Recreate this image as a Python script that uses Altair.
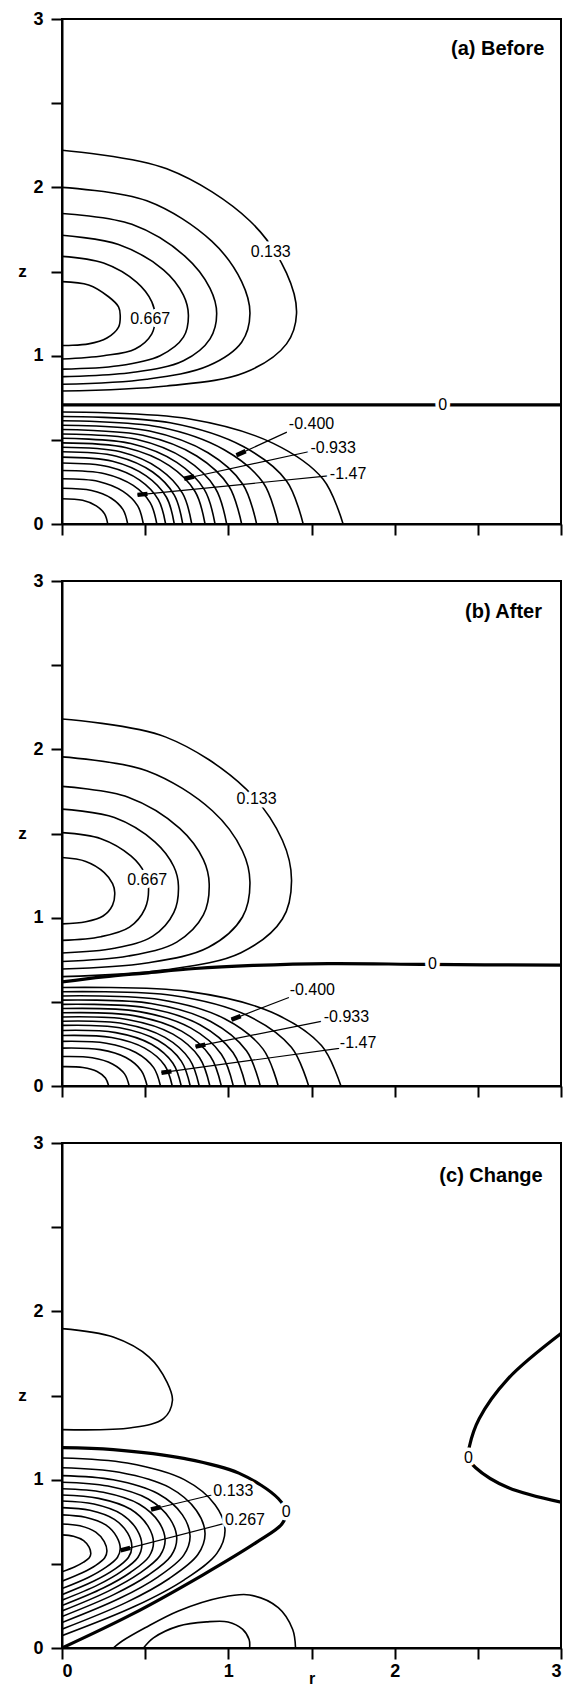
import altair as alt
import pandas as pd

R_TICKS = [0, 0.5, 1, 1.5, 2, 2.5, 3]
Z_TICKS = [0, 0.5, 1, 1.5, 2, 2.5, 3]

# ---------------- Panel (a) Before ----------------
A_POS = [
    [(0, 2.22), (0.63, 2.11), (1.13, 1.80), (1.35, 1.49), (1.41, 1.25), (1.35, 1.07), (1.10, 0.90), (0.63, 0.82), (0, 0.79)],
    [(0, 2.00), (0.51, 1.92), (0.90, 1.68), (1.08, 1.44), (1.13, 1.25), (1.08, 1.08), (0.88, 0.94), (0.51, 0.86), (0, 0.83)],
    [(0, 1.845), (0.42, 1.78), (0.74, 1.59), (0.89, 1.40), (0.93, 1.25), (0.89, 1.10), (0.73, 0.97), (0.42, 0.90), (0, 0.875)],
    [(0, 1.715), (0.34, 1.66), (0.61, 1.51), (0.73, 1.36), (0.76, 1.24), (0.73, 1.11), (0.59, 1.00), (0.34, 0.94), (0, 0.92)],
    [(0, 1.59), (0.25, 1.55), (0.45, 1.435), (0.54, 1.32), (0.56, 1.23), (0.54, 1.13), (0.44, 1.04), (0.25, 1.00), (0, 0.98)],
    [(0, 1.44), (0.16, 1.42), (0.28, 1.35), (0.34, 1.29), (0.35, 1.24), (0.34, 1.17), (0.27, 1.105), (0.16, 1.07), (0, 1.06)],
]
A_NEG = [
    [(0, .665), (.76, .625), (1.27, .479), (1.57, .266), (1.69, 0)],
    [(0, .639), (.65, .601), (1.09, .46), (1.35, .256), (1.45, 0)],
    [(0, .613), (.585, .576), (.975, .441), (1.21, .245), (1.30, 0)],
    [(0, .587), (.527, .552), (.878, .423), (1.088, .235), (1.17, 0)],
    [(0, .561), (.486, .527), (.81, .404), (1.004, .224), (1.08, 0)],
    [(0, .535), (.446, .503), (.743, .385), (.921, .214), (.99, 0)],
    [(0, .509), (.414, .478), (.69, .366), (.856, .204), (.92, 0)],
    [(0, .482), (.387, .453), (.645, .347), (.80, .193), (.86, 0)],
    [(0, .456), (.351, .429), (.585, .328), (.725, .182), (.78, 0)],
    [(0, .429), (.327, .403), (.545, .309), (.675, .172), (.726, 0)],
    [(0, .397), (.304, .373), (.506, .286), (.628, .159), (.675, 0)],
    [(0, .362), (.28, .34), (.467, .261), (.579, .145), (.623, 0)],
    [(0, .318), (.257, .299), (.428, .229), (.53, .127), (.57, 0)],
    [(0, .269), (.22, .253), (.367, .194), (.455, .108), (.489, 0)],
    [(0, .212), (.178, .199), (.296, .153), (.367, .085), (.395, 0)],
    [(0, .150), (.124, .141), (.206, .108), (.256, .06), (.275, 0)],
]
A_ZERO = [[(0, 0.708), (3, 0.708)]]
A_LABELS = [("0.133", 1.255, 1.618), ("0.667", 0.53, 1.216), ("0", 2.289, 0.708),
            ("-0.400", 1.50, 0.592), ("-0.933", 1.63, 0.451), ("-1.47", 1.72, 0.296)]
# leader: start r, start z, tip r, tip z, head-tail r, head-tail z
A_LEADERS = [(1.352, 0.546, 1.049, 0.408, 1.104, 0.433),
             (1.482, 0.429, 0.735, 0.269, 0.794, 0.282),
             (1.60, 0.286, 0.454, 0.173, 0.514, 0.179)]
A_TITLE = [("(a) Before", 2.90, 2.82)]

# ---------------- Panel (b) After ----------------
B_POS = [
    [(0, 2.18), (0.621, 2.074), (1.104, 1.767), (1.325, 1.46), (1.38, 1.22), (1.325, 0.992), (1.076, 0.792), (0.621, 0.69), (0, 0.65)],
    [(0, 1.955), (0.509, 1.873), (0.904, 1.635), (1.085, 1.396), (1.13, 1.21), (1.085, 1.004), (0.881, 0.824), (0.509, 0.731), (0, 0.695)],
    [(0, 1.78), (0.398, 1.716), (0.708, 1.531), (0.85, 1.345), (0.885, 1.2), (0.85, 1.016), (0.69, 0.855), (0.398, 0.772), (0, 0.74)],
    [(0, 1.645), (0.315, 1.595), (0.56, 1.449), (0.672, 1.304), (0.70, 1.19), (0.672, 1.03), (0.546, 0.89), (0.315, 0.818), (0, 0.79)],
    [(0, 1.505), (0.234, 1.469), (0.416, 1.365), (0.499, 1.261), (0.52, 1.18), (0.499, 1.054), (0.406, 0.944), (0.234, 0.887), (0, 0.865)],
    [(0, 1.357), (0.143, 1.334), (0.254, 1.268), (0.304, 1.202), (0.317, 1.15), (0.304, 1.075), (0.247, 1.01), (0.143, 0.976), (0, 0.963)],
]
B_NEG = [
    [(0, .585), (.755, .562), (1.258, .439), (1.56, .24), (1.677, 0)],
    [(0, .56), (.667, .538), (1.112, .42), (1.379, .23), (1.483, 0)],
    [(0, .535), (.585, .514), (.975, .401), (1.209, .219), (1.30, 0)],
    [(0, .51), (.536, .49), (.894, .383), (1.109, .209), (1.192, 0)],
    [(0, .485), (.497, .466), (.829, .364), (1.028, .199), (1.105, 0)],
    [(0, .46), (.464, .442), (.773, .345), (.958, .189), (1.03, 0)],
    [(0, .435), (.431, .418), (.719, .326), (.891, .178), (.958, 0)],
    [(0, .41), (.40, .394), (.667, .308), (.827, .168), (.889, 0)],
    [(0, .385), (.371, .37), (.619, .289), (.767, .158), (.825, 0)],
    [(0, .36), (.347, .346), (.578, .27), (.717, .148), (.771, 0)],
    [(0, .33), (.323, .317), (.538, .248), (.667, .135), (.717, 0)],
    [(0, .30), (.298, .288), (.497, .225), (.617, .123), (.663, 0)],
    [(0, .265), (.266, .254), (.444, .199), (.551, .109), (.592, 0)],
    [(0, .225), (.23, .216), (.384, .169), (.476, .092), (.512, 0)],
    [(0, .175), (.182, .168), (.303, .131), (.376, .072), (.404, 0)],
    [(0, .115), (.126, .11), (.211, .086), (.261, .047), (.281, 0)],
]
B_ZERO = [[(0, 0.618), (0.25, 0.648), (0.5, 0.671), (0.8, 0.698), (1.15, 0.716), (1.6, 0.727), (2.2, 0.722), (3.0, 0.718)]]
B_LABELS = [("0.133", 1.17, 1.705), ("0.667", 0.512, 1.221), ("0", 2.227, 0.722),
            ("-0.400", 1.505, 0.569), ("-0.933", 1.71, 0.409), ("-1.47", 1.78, 0.256)]
B_LEADERS = [(1.364, 0.526, 1.019, 0.394, 1.074, 0.415),
             (1.558, 0.384, 0.803, 0.234, 0.862, 0.246),
             (1.666, 0.224, 0.598, 0.079, 0.658, 0.087)]
B_TITLE = [("(b) After", 2.886, 2.813)]

# ---------------- Panel (c) Change ----------------
C_THIN = [
    [(0, 1.897), (0.308, 1.847), (0.524, 1.728), (0.632, 1.578), (0.664, 1.47), (0.61, 1.362), (0.416, 1.308), (0, 1.297)],
    [(0.308, 0), (0.36, 0.04), (0.5, 0.12), (0.7, 0.22), (0.955, 0.30), (1.128, 0.315), (1.30, 0.24), (1.387, 0.11), (1.404, 0)],
    [(0.49, 0), (0.55, 0.06), (0.7, 0.13), (0.869, 0.155), (0.998, 0.155), (1.085, 0.112), (1.125, 0.05), (1.128, 0)],
    [(0, 1.129), (0.392, 1.099), (0.735, 1.0), (0.921, 0.85), (0.98, 0.70), (0.931, 0.562), (0.735, 0.405), (0.441, 0.249), (0, 0.073)],
    [(0, 1.071), (0.344, 1.044), (0.645, 0.954), (0.808, 0.817), (0.86, 0.68), (0.817, 0.555), (0.645, 0.413), (0.387, 0.271), (0, 0.112)],
    [(0, 1.024), (0.308, 0.999), (0.578, 0.916), (0.724, 0.791), (0.77, 0.665), (0.732, 0.552), (0.578, 0.423), (0.347, 0.295), (0, 0.151)],
    [(0, 0.985), (0.276, 0.962), (0.518, 0.885), (0.649, 0.767), (0.69, 0.65), (0.656, 0.548), (0.518, 0.432), (0.311, 0.317), (0, 0.187)],
    [(0, 0.946), (0.248, 0.925), (0.465, 0.854), (0.583, 0.747), (0.62, 0.64), (0.589, 0.548), (0.465, 0.443), (0.279, 0.338), (0, 0.22)],
    [(0, 0.909), (0.22, 0.889), (0.413, 0.824), (0.517, 0.724), (0.55, 0.625), (0.523, 0.543), (0.413, 0.45), (0.248, 0.356), (0, 0.252)],
    [(0, 0.873), (0.192, 0.855), (0.36, 0.794), (0.451, 0.702), (0.48, 0.61), (0.456, 0.538), (0.36, 0.457), (0.216, 0.375), (0, 0.284)],
    [(0, 0.834), (0.168, 0.818), (0.315, 0.764), (0.395, 0.682), (0.42, 0.60), (0.399, 0.538), (0.315, 0.467), (0.189, 0.396), (0, 0.317)],
    [(0, 0.791), (0.14, 0.777), (0.263, 0.731), (0.329, 0.66), (0.35, 0.59), (0.333, 0.538), (0.263, 0.479), (0.158, 0.419), (0, 0.353)],
    [(0, 0.737), (0.108, 0.726), (0.203, 0.688), (0.254, 0.632), (0.27, 0.575), (0.257, 0.536), (0.203, 0.491), (0.122, 0.447), (0, 0.397)],
    [(0, 0.672), (0.069, 0.664), (0.13, 0.638), (0.163, 0.599), (0.173, 0.56), (0.164, 0.536), (0.13, 0.51), (0.078, 0.483), (0, 0.453)],
]
C_ZERO = [
    [(0, 1.19), (0.308, 1.179), (0.74, 1.125), (1.063, 1.039), (1.30, 0.888), (1.348, 0.806), (1.322, 0.737), (1.171, 0.629), (0.848, 0.435), (0.416, 0.198), (0, 0)],
    [(3, 1.868), (2.681, 1.599), (2.508, 1.362), (2.45, 1.2), (2.443, 1.129), (2.487, 1.071), (2.681, 0.953), (3, 0.866)],
]
C_LABELS = [("0.133", 1.03, 0.931), ("0.267", 1.10, 0.759), ("0", 1.348, 0.806), ("0", 2.443, 1.129)]
C_LEADERS = [(0.901, 0.909, 0.535, 0.823, 0.594, 0.837),
             (0.966, 0.737, 0.352, 0.58, 0.41, 0.595)]
C_TITLE = [("(c) Change", 2.89, 2.806)]

FONT = "Liberation Sans"
W, H = 499, 505
LABEL_EXPR = "datum.value % 1 == 0 ? format(datum.value, 'd') : ''"


def curves_df(curves):
    rows = []
    for i, pts in enumerate(curves):
        for j, (r, z) in enumerate(pts):
            rows.append({"cid": i, "ord": j, "r": r, "z": z})
    return pd.DataFrame(rows)


def panel(thin, thick, labels, leaders, title, bottom):
    xscale = alt.Scale(domain=[0, 3], nice=False, zero=False)
    yscale = alt.Scale(domain=[0, 3], nice=False, zero=False)
    if bottom:
        xaxis = alt.Axis(values=R_TICKS, labelExpr=LABEL_EXPR, labelPadding=3,
                         title="r", titleFontSize=16, titleFontWeight="bold", titleFont=FONT,
                         titleY=38, titleBaseline="bottom")
    else:
        xaxis = alt.Axis(values=R_TICKS, labels=False, title=None)
    yaxis = alt.Axis(values=Z_TICKS, labelExpr=LABEL_EXPR, labelPadding=8,
                     title="z", titleAngle=0, titleX=-40, titleY=H / 2, titleAlign="center",
                     titleBaseline="middle", titleFontSize=17, titleFontWeight="bold", titleFont=FONT)
    x = alt.X("r:Q", scale=xscale, axis=xaxis)
    y = alt.Y("z:Q", scale=yscale, axis=yaxis)

    thin_l = alt.Chart(curves_df(thin)).mark_line(
        interpolate="catmull-rom", color="black", strokeWidth=1.6, clip=True
    ).encode(x=x, y=y, detail="cid:N", order="ord:Q")
    thick_l = alt.Chart(curves_df(thick)).mark_line(
        interpolate="catmull-rom", color="black", strokeWidth=3.2, clip=True
    ).encode(x=x, y=y, detail="cid:N", order="ord:Q")

    lead_df = pd.DataFrame(leaders, columns=["r", "z", "r2", "z2", "rh", "zh"])
    lead_l = alt.Chart(lead_df).mark_rule(color="black", strokeWidth=1.2).encode(
        x=x, y=y, x2="r2:Q", y2="z2:Q")
    head_l = alt.Chart(lead_df).mark_rule(color="black", strokeWidth=4.5).encode(
        x=alt.X("r2:Q", scale=xscale, axis=xaxis), y=alt.Y("z2:Q", scale=yscale, axis=yaxis),
        x2="rh:Q", y2="zh:Q")

    lab_df = pd.DataFrame(labels, columns=["txt", "r", "z"])
    halo = alt.Chart(lab_df).mark_text(
        font=FONT, fontSize=16, fill="white", stroke="white", strokeWidth=7,
        align="center", baseline="middle"
    ).encode(x=x, y=y, text="txt:N")
    txt = alt.Chart(lab_df).mark_text(
        font=FONT, fontSize=16, color="black", align="center", baseline="middle"
    ).encode(x=x, y=y, text="txt:N")

    t_df = pd.DataFrame(title, columns=["txt", "r", "z"])
    ttl = alt.Chart(t_df).mark_text(
        font=FONT, fontSize=20, fontWeight="bold", color="black", align="right", baseline="middle"
    ).encode(x=x, y=y, text="txt:N")

    layers = [thin_l, thick_l]
    if leaders:
        layers += [lead_l, head_l]
    layers += [halo, txt, ttl]
    return alt.layer(*layers).properties(width=W, height=H)


pa = panel(A_POS + A_NEG, A_ZERO, A_LABELS, A_LEADERS, A_TITLE, False)
pb = panel(B_POS + B_NEG, B_ZERO, B_LABELS, B_LEADERS, B_TITLE, False)
pc = panel(C_THIN, C_ZERO, C_LABELS, C_LEADERS, C_TITLE, True)

chart = alt.vconcat(pa, pb, pc, spacing=57, bounds="flush").properties(
    padding={"left": 16, "top": 9, "right": 5, "bottom": 0},
    background="white",
).configure_view(
    stroke="black", strokeWidth=2
).configure_axis(
    domainColor="black", domainWidth=2, tickColor="black", tickWidth=2, tickSize=11,
    labelFont=FONT, labelFontSize=18, labelFontWeight="bold", labelColor="black",
    grid=False, titleColor="black"
)

chart.save("out.html", embed_options={"renderer": "svg", "actions": False})
